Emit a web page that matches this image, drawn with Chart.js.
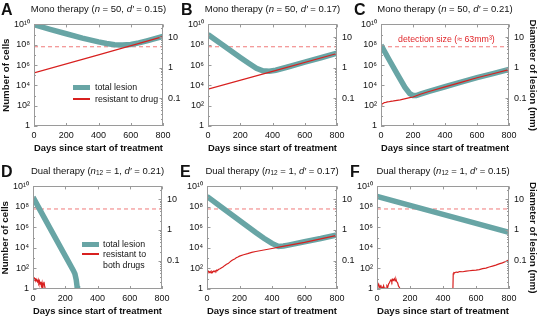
<!DOCTYPE html>
<html>
<head>
<meta charset="utf-8">
<script src="https://cdn.jsdelivr.net/npm/chart.js@4.4.0/dist/chart.umd.min.js"></script>
<style>
  body { margin: 0; width: 538px; height: 316px; background: #fff; position: relative; overflow: hidden;
         font-family: "Liberation Sans", Arial, sans-serif; color: #111; }
  canvas { position: absolute; }
  .letter { position: absolute; font-weight: bold; font-size: 16px; line-height: 16px; }
  .ttl { position: absolute; font-size: 9.5px; line-height: 12px; text-align: center; white-space: nowrap; }
  .ttl sub { font-size: 6.5px; vertical-align: -1px; }
  .leg { position: absolute; font-size: 8.8px; line-height: 10px; white-space: nowrap; }
  .swatch { position: absolute; }
  .det { position: absolute; font-size: 8.8px; line-height: 10px; color: #e0262a; white-space: nowrap; }
</style>
</head>
<body>
<script>
// ---------------------------------------------------------
// axes
// ---------------------------------------------------------
const DAYS_TICKS = [0, 200, 400, 600, 800];
const CELL_TICKS = [1, 1e2, 1e4, 1e6, 1e8, 1e10];
const CELL_LABELS = ['1', '10²', '10⁴', '10⁶', '10⁸', '10¹⁰'];
const DIAM_TICKS = [0.1, 1, 10];
const DIAM_LABELS = ['0.1', '1', '10'];
const DIAM_MIN = 0.0121;   // mm at 1 cell
const DIAM_MAX = 26.1;     // mm at 1e10 cells
const DETECTION = 6.3e7;   // cells, ~63 mm^3

// ---------------------------------------------------------
// data
// ---------------------------------------------------------
// A  mono, d' = 0.15
const aTotDays = [0, 100, 200, 300, 400, 450, 500, 550, 600, 650, 700, 750, 800];
const aTot = [9.3e9, 3.2e9, 1.2e9, 4.5e8, 1.9e8, 1.3e8, 1.0e8, 9.3e7, 1.05e8, 1.5e8, 2.4e8, 4.0e8, 6.6e8];
const aResDays = [0, 400, 800];
const aRes = [1.7e5, 1.0e7, 6.3e8];

// B  mono, d' = 0.17
const bTotDays = [0, 100, 200, 250, 300, 340, 380, 420, 500, 600, 700, 800];
const bTot = [1.0e9, 7.4e7, 5.6e6, 1.6e6, 4.8e5, 2.75e5, 2.45e5, 3.1e5, 6.8e5, 1.9e6, 5.2e6, 1.45e7];
const bResDays = [0, 400, 800];
const bRes = [4.2e3, 2.4e5, 1.38e7];

// C  mono, d' = 0.21
const cTotDays = [0, 50, 100, 150, 180, 200, 220, 250, 300, 400, 500, 600, 700, 800];
const cTot = [9e7, 3.5e6, 1.4e5, 6.3e3, 1.5e3, 1.0e3, 1.0e3, 1.45e3, 2.6e3, 7.3e3, 2.1e4, 5.8e4, 1.45e5, 3.7e5];
const cResDays = [0, 3, 6, 10, 15, 20, 30, 40, 50, 60, 70, 80, 100, 120, 140, 160, 180, 200, 250, 300, 400, 500, 600, 700, 800];
const cRes = [100, 115, 150, 160, 175, 200, 215, 235, 245, 265, 275, 295, 330, 375, 440, 520, 620, 720, 1400, 2500, 7100, 2.0e4, 5.6e4, 1.4e5, 3.5e5];

// D  dual, d' = 0.21
const dTotDays = [0, 100, 200, 250, 260, 268, 273, 276];
const dTot = [8.9e8, 1.2e6, 1.7e3, 65, 30, 8, 2, 0.5];
const dResDays = [0, 4, 8, 12, 16, 20, 24, 28, 32, 36, 40, 44, 48, 52, 56, 60, 64, 68, 72, 76];
const dRes = [14, 11, 12, 8, 9, 6, 7, 5, 8, 4, 6, 3, 5, 2, 4, 1, 3, 5, 2, 1];

// E  dual, d' = 0.17
const eTotDays = [0, 100, 200, 300, 350, 400, 440, 470, 500, 600, 700, 800];
const eTot = [1.05e9, 7.1e7, 4.8e6, 3.2e5, 8.9e4, 2.8e4, 1.4e4, 1.55e4, 1.9e4, 4.0e4, 8.3e4, 1.9e5];
const eResDays = [0, 5, 10, 15, 20, 25, 30, 35, 40, 45, 50, 55, 60, 65, 70, 80, 90, 100, 110, 120, 130, 140, 150,
                  160, 170, 180, 190, 200, 225, 250, 275, 300, 350, 400, 450, 500, 600, 700, 800];
const eRes = [60, 45, 55, 40, 50, 38, 52, 42, 55, 48, 60, 52, 70, 62, 80, 95, 120, 150, 200, 260, 300, 420, 560,
              700, 850, 1100, 1300, 1600, 2200, 2800, 3700, 4500, 6300, 8900, 1.26e4, 1.78e4, 3.5e4, 7.6e4, 1.66e5];

// F  dual, d' = 0.15
const fTotDays = [0, 400, 800];
const fTot = [1.05e9, 1.86e7, 3.3e5];
const fRes1Days = [0, 5, 10, 15, 20, 25, 30, 35, 40, 45, 50, 55, 60, 65, 70, 75, 80, 85, 90, 95, 100, 105, 110, 115, 120, 125, 130, 135, 140];
const fRes1 = [3, 2, 3, 1.5, 2, 1, 1.5, 1, 2, 1, 1.2, 1, 2, 1.5, 3, 4, 6, 8, 5, 9, 7, 10, 6, 9, 5, 4, 2, 1.5, 1];
const fRes2Days = [460, 462, 466, 470, 480, 490, 500, 520, 540, 560, 580, 600, 620, 640, 660, 680, 700, 720, 740, 760, 780, 800];
const fRes2 = [1, 30, 40, 38, 45, 42, 50, 48, 55, 60, 65, 70, 78, 95, 110, 140, 170, 210, 280, 350, 480, 700];

// ---------------------------------------------------------
// style
// ---------------------------------------------------------
const TEAL = 'rgb(104,165,165)';
const RED = '#d8201f';
const PINK = '#f07a7a';
const FRAME = '#9a9a9a';
const FONT = '"Liberation Sans", Arial, sans-serif';

const panels = [
  { letter: 'A', box: [34, 163, 22, 126], title: 'Mono therapy (<i>n</i> = 50, <i>d′</i> = 0.15)',
    tot: [aTotDays, aTot], res: [[aResDays, aRes]], left: true },
  { letter: 'B', box: [208, 337, 22, 126], title: 'Mono therapy (<i>n</i> = 50, <i>d′</i> = 0.17)',
    tot: [bTotDays, bTot], res: [[bResDays, bRes]] },
  { letter: 'C', box: [381, 509, 22, 126], title: 'Mono therapy (<i>n</i> = 50, <i>d′</i> = 0.21)',
    tot: [cTotDays, cTot], res: [[cResDays, cRes]], right: true },
  { letter: 'D', box: [33, 162, 184, 289], title: 'Dual therapy (<i>n</i><sub>12</sub> = 1, <i>d′</i> = 0.21)',
    tot: [dTotDays, dTot], res: [[dResDays, dRes]], left: true },
  { letter: 'E', box: [207, 337, 184, 289], title: 'Dual therapy (<i>n</i><sub>12</sub> = 1, <i>d′</i> = 0.17)',
    tot: [eTotDays, eTot], res: [[eResDays, eRes]] },
  { letter: 'F', box: [377, 509, 184, 289], title: 'Dual therapy (<i>n</i><sub>12</sub> = 1, <i>d′</i> = 0.15)',
    tot: [fTotDays, fTot], res: [[fRes1Days, fRes1], [fRes2Days, fRes2]], right: true }
];

// frame + inward ticks, pgfplots style
const framePlugin = {
  id: 'frame',
  afterDatasetsDraw(chart) {
    const { ctx, chartArea: a, scales } = chart;
    ctx.save();
    ctx.strokeStyle = FRAME;
    ctx.lineWidth = 1;
    ctx.beginPath();
    DAYS_TICKS.forEach(v => {
      const x = Math.round(scales.x.getPixelForValue(v)) + 0.5;
      ctx.moveTo(x, a.bottom); ctx.lineTo(x, a.bottom - 3);
      ctx.moveTo(x, a.top); ctx.lineTo(x, a.top + 3);
    });
    for (let e = 0; e <= 10; e++) {
      const y = Math.round(scales.y.getPixelForValue(Math.pow(10, e))) + 0.5;
      ctx.moveTo(a.left, y); ctx.lineTo(a.left + (e % 2 ? 2 : 3.5), y);
    }
    [0.01, 0.1, 1, 10].forEach(dec => {
      for (let m = 1; m <= 9; m++) {
        const v = dec * m;
        if (v < DIAM_MIN || v > DIAM_MAX) continue;
        const y = Math.round(scales.y2.getPixelForValue(v)) + 0.5;
        ctx.moveTo(a.right, y); ctx.lineTo(a.right - (m === 1 ? 3.5 : 2), y);
      }
    });
    ctx.stroke();
    ctx.strokeRect(Math.round(a.left) + 0.5, Math.round(a.top) + 0.5,
                   Math.round(a.right - a.left) - 1, Math.round(a.bottom - a.top) - 1);
    ctx.restore();
  }
};

function pts(days, vals) {
  return days.map((d, i) => ({ x: d, y: vals[i] }));
}

function addText(cls, left, top, html, extra) {
  const el = document.createElement('div');
  el.className = cls;
  el.style.left = left + 'px';
  el.style.top = top + 'px';
  el.innerHTML = html;
  if (extra) Object.assign(el.style, extra);
  document.body.appendChild(el);
  return el;
}

function drawPanel(p) {
  const [x0, x1, y0, y1] = p.box;
  const L = 34, R = 30, T = 8, B = 28;
  const cv = document.createElement('canvas');
  cv.width = x1 - x0 + L + R;
  cv.height = y1 - y0 + T + B;
  cv.style.left = (x0 - L) + 'px';
  cv.style.top = (y0 - T) + 'px';
  document.body.appendChild(cv);

  const datasets = [];
  datasets.push({
    data: pts([DAYS_TICKS[0], DAYS_TICKS[DAYS_TICKS.length - 1]], [DETECTION, DETECTION]),
    borderColor: PINK, borderWidth: 1, borderDash: [4, 3], order: 3
  });
  datasets.push({
    data: pts(p.tot[0], p.tot[1]),
    borderColor: TEAL, borderWidth: 5.5, borderCapStyle: 'butt', order: 2
  });
  p.res.forEach(r => datasets.push({
    data: pts(r[0], r[1]), borderColor: RED, borderWidth: 1.2, order: 0
  }));
  datasets.forEach(d => Object.assign(d, { pointRadius: 0, tension: 0, clip: 0, yAxisID: 'y' }));

  const tickFont = { family: FONT, size: 9 };
  const titleFont = { family: FONT, size: 9.8, weight: 'bold' };
  const noGrid = { display: false, drawTicks: false };

  new Chart(cv, {
    type: 'line',
    data: { datasets },
    options: {
      responsive: false,
      animation: false,
      layout: { padding: { top: T, left: 0, right: 0, bottom: 0 } },
      plugins: { legend: { display: false }, tooltip: { enabled: false } },
      scales: {
        x: {
          type: 'linear', min: 0, max: 800,
          afterBuildTicks: s => { s.ticks = DAYS_TICKS.map(v => ({ value: v })); },
          ticks: { font: tickFont, color: '#111', padding: 4, maxRotation: 0, autoSkip: false },
          grid: noGrid, border: { display: false },
          title: { display: true, text: 'Days since start of treatment', font: titleFont, color: '#111',
                   padding: { top: 0, bottom: 0 } },
          afterFit: s => { s.height = B; }
        },
        y: {
          type: 'logarithmic', position: 'left', min: 1, max: 1e10,
          afterBuildTicks: s => { s.ticks = CELL_TICKS.map(v => ({ value: v })); },
          ticks: { font: tickFont, color: '#111', padding: 4,
                   callback: v => CELL_LABELS[CELL_TICKS.indexOf(v)] },
          grid: noGrid, border: { display: false },
          title: { display: !!p.left, text: 'Number of cells', font: titleFont, color: '#111',
                   padding: { top: 0, bottom: 0 } },
          afterFit: s => { s.width = L; }
        },
        y2: {
          type: 'logarithmic', position: 'right', min: DIAM_MIN, max: DIAM_MAX,
          afterBuildTicks: s => { s.ticks = DIAM_TICKS.map(v => ({ value: v })); },
          ticks: { font: tickFont, color: '#111', padding: 5,
                   callback: v => DIAM_LABELS[DIAM_TICKS.indexOf(v)] },
          grid: noGrid, border: { display: false },
          title: { display: !!p.right, text: 'Diameter of lesion (mm)', font: titleFont, color: '#111',
                   padding: { top: 0, bottom: 0 } },
          afterFit: s => { s.width = R; }
        }
      }
    },
    plugins: [framePlugin]
  });

  // panel letter and title
  const rowTop = y0 < 100 ? 0 : 162;
  addText('letter', x0 < 100 ? 1 : x0 - 27, rowTop + 1.5, p.letter);
  addText('ttl', x0 - 20, rowTop + 2.5, p.title, { width: (x1 - x0 + 40) + 'px' });
}

panels.forEach(drawPanel);

// legends
function swatch(left, top, w, h, color) {
  const el = document.createElement('div');
  el.className = 'swatch';
  Object.assign(el.style, { left: left + 'px', top: top + 'px', width: w + 'px', height: h + 'px', background: color });
  document.body.appendChild(el);
}
swatch(73, 84.5, 17, 5.5, TEAL);
addText('leg', 95, 82, 'total lesion');
swatch(73, 98, 17, 1.5, RED);
addText('leg', 95, 94, 'resistant to drug');

swatch(82, 241.5, 17, 5.5, TEAL);
addText('leg', 103, 239, 'total lesion');
swatch(82, 253, 17, 1.5, RED);
addText('leg', 103, 249, 'resistant to<br>both drugs', { lineHeight: '11px' });

// detection size label (panel C)
addText('det', 398, 34, 'detection size (≈ 63mm³)');
</script>
</body>
</html>
